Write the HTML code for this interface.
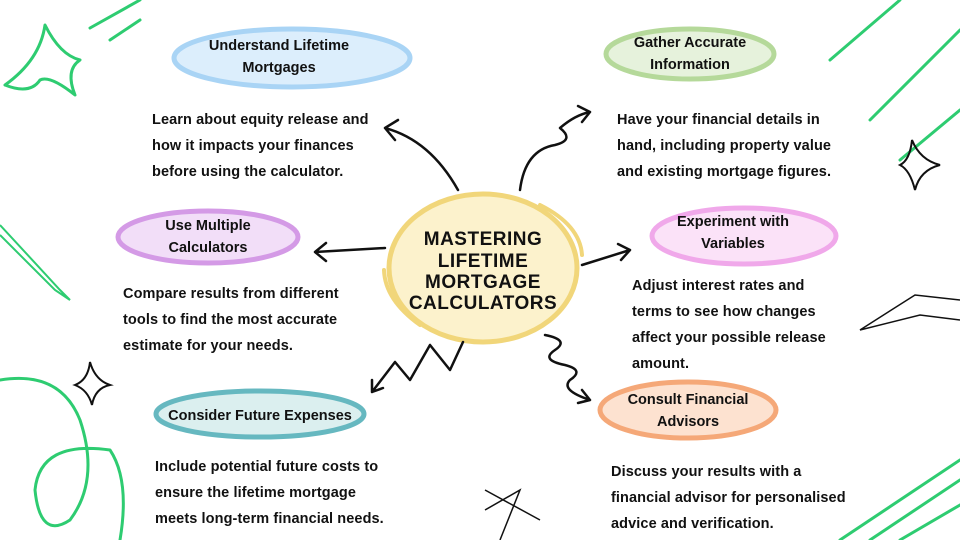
<!DOCTYPE html>
<html><head><meta charset="utf-8"><style>
body{margin:0;background:#fff}
svg{display:block}
text{font-family:"Liberation Sans",sans-serif;fill:#111}
.t{font-size:14.5px;font-weight:bold;text-anchor:middle}
.b{font-size:14.5px;font-weight:bold;letter-spacing:0.1px}
.c{font-size:19px;font-weight:900;text-anchor:middle;letter-spacing:0.5px}
.a{fill:none;stroke:#111;stroke-width:2.5;stroke-linecap:round;stroke-linejoin:round}
.g{fill:none;stroke:#2ecc71;stroke-width:3;stroke-linecap:round;stroke-linejoin:round}
</style></head><body>
<svg width="960" height="540" viewBox="0 0 960 540">
<!-- decorations -->
<path class="g" d="M5,85 Q40,60 45,25 Q60,55 80,60 Q65,70 75,95 Q50,75 40,80 Q30,95 5,85" stroke-width="2"/>
<path class="g" d="M90,28 L140,0 M110,40 L140,20" stroke-width="2"/>
<path class="g" d="M830,60 L900,0 M870,120 L960,30 M900,160 L960,110" stroke-width="3"/>
<path class="g" d="M0,380 Q60,370 80,420 Q100,480 70,520 Q40,540 35,490 Q40,440 110,450 Q130,480 120,540" stroke-width="6"/>
<path class="g" d="M840,540 L960,460 M870,540 L960,480 M900,540 L960,505" stroke-width="2"/>
<path d="M0,225 L60,290 L70,300 L55,290 L0,235" fill="none" stroke="#2ecc71" stroke-width="2"/>
<path d="M912,140 Q920,160 940,165 Q920,170 915,190 Q910,170 900,165 Q910,160 912,140Z" fill="none" stroke="#111" stroke-width="2"/>
<path d="M90,362 Q95,380 110,385 Q95,388 92,405 Q88,390 75,385 Q88,380 90,362Z" fill="none" stroke="#111" stroke-width="2"/>
<path d="M485,510 L520,490 L500,540 M485,490 L540,520" fill="none" stroke="#111" stroke-width="1.5"/>
<path d="M960,300 L915,295 L860,330 L920,315 L960,320" fill="none" stroke="#111" stroke-width="1.5"/>
<!-- ellipses -->
<ellipse cx="292" cy="58" rx="118" ry="29" fill="#dceefc" stroke="#a9d4f5" stroke-width="5"/>
<ellipse cx="690" cy="54" rx="84" ry="25" fill="#e6f2dc" stroke="#b5d99a" stroke-width="5"/>
<ellipse cx="208" cy="237" rx="90" ry="26" fill="#f2def8" stroke="#d49ae6" stroke-width="5"/>
<ellipse cx="744" cy="236" rx="92" ry="28" fill="#fbe2f8" stroke="#f0a8ea" stroke-width="5"/>
<ellipse cx="260" cy="414" rx="104" ry="23" fill="#dbefef" stroke="#66b8c0" stroke-width="5"/>
<ellipse cx="688" cy="410" rx="88" ry="28" fill="#fde2d0" stroke="#f5a878" stroke-width="5"/>
<ellipse cx="483" cy="268" rx="94" ry="74" fill="#fcf2cc" stroke="#f1d67a" stroke-width="5"/>
<path d="M540,205 Q580,225 582,255" fill="none" stroke="#f1d67a" stroke-width="4" stroke-linecap="round"/>
<path d="M384,270 Q385,300 420,325" fill="none" stroke="#f1d67a" stroke-width="4" stroke-linecap="round"/>
<!-- arrows -->
<path class="a" d="M458,190 Q430,140 385,128 M385,128 L398,120 M385,128 L395,140"/>
<path class="a" d="M520,190 Q525,150 555,145 Q575,140 560,128 Q575,115 590,112 M590,112 L578,106 M590,112 L582,122"/>
<path class="a" d="M385,248 L315,252 M315,252 L326,243 M315,252 L326,261"/>
<path class="a" d="M582,265 L630,250 M630,250 L618,244 M630,250 L621,260"/>
<path class="a" d="M463,342 L450,370 L430,345 L410,380 L395,362 L372,392 M372,392 L372,380 M372,392 L383,388"/>
<path class="a" d="M545,335 Q570,340 555,350 Q540,360 565,365 Q585,370 570,380 Q560,390 590,400 M590,400 L578,403 M590,400 L582,390"/>
<!-- titles -->
<text class="t" x="279" y="50">Understand Lifetime</text><text class="t" x="279" y="72">Mortgages</text>
<text class="t" x="690" y="47">Gather Accurate</text><text class="t" x="690" y="69">Information</text>
<text class="t" x="208" y="230">Use Multiple</text><text class="t" x="208" y="252">Calculators</text>
<text class="t" x="733" y="226">Experiment with</text><text class="t" x="733" y="248">Variables</text>
<text class="t" x="260" y="420">Consider Future Expenses</text>
<text class="t" x="688" y="404">Consult Financial</text><text class="t" x="688" y="426">Advisors</text>
<text class="c" x="483" y="245">MASTERING</text><text class="c" x="483" y="267">LIFETIME</text>
<text class="c" x="483" y="288">MORTGAGE</text><text class="c" x="483" y="309">CALCULATORS</text>
<!-- bodies -->
<text class="b" x="152" y="124">Learn about equity release and</text>
<text class="b" x="152" y="150">how it impacts your finances</text>
<text class="b" x="152" y="176">before using the calculator.</text>
<text class="b" x="617" y="124">Have your financial details in</text>
<text class="b" x="617" y="150">hand, including property value</text>
<text class="b" x="617" y="176">and existing mortgage figures.</text>
<text class="b" x="123" y="298">Compare results from different</text>
<text class="b" x="123" y="324">tools to find the most accurate</text>
<text class="b" x="123" y="350">estimate for your needs.</text>
<text class="b" x="632" y="290">Adjust interest rates and</text>
<text class="b" x="632" y="316">terms to see how changes</text>
<text class="b" x="632" y="342">affect your possible release</text>
<text class="b" x="632" y="368">amount.</text>
<text class="b" x="155" y="471">Include potential future costs to</text>
<text class="b" x="155" y="497">ensure the lifetime mortgage</text>
<text class="b" x="155" y="523">meets long-term financial needs.</text>
<text class="b" x="611" y="476">Discuss your results with a</text>
<text class="b" x="611" y="502">financial advisor for personalised</text>
<text class="b" x="611" y="528">advice and verification.</text>
</svg>
</body></html>
